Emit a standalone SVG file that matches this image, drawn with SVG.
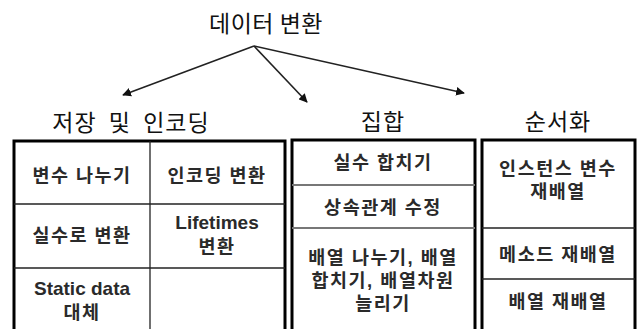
<svg xmlns="http://www.w3.org/2000/svg" width="641" height="329" viewBox="0 0 641 329">
<style>
.t{font-family:"Noto Sans CJK KR","Liberation Sans",sans-serif;fill:#111;text-anchor:middle}
.h{font-size:23px;letter-spacing:0.5px}
.s{font-size:23px;letter-spacing:1px}
.c{font-family:"Liberation Sans","Noto Sans CJK KR",sans-serif;font-size:18.5px;font-weight:bold;fill:#2a2a2a;letter-spacing:1.5px}
.e{font-size:19px;letter-spacing:0}
.box{fill:#fff;stroke:#000;stroke-width:3}
.div{stroke:#222;stroke-width:1.3}
.gdiv{stroke:#777;stroke-width:2}
.arr{stroke:#222;stroke-width:1.6;fill:none;marker-end:url(#ah)}
</style>
<defs>
<marker id="ah" viewBox="0 0 10 10" refX="9" refY="5" markerWidth="5.5" markerHeight="5.5" orient="auto">
<path d="M0,0 L10,5 L0,10 z" fill="#111"/>
</marker>
</defs>
<rect width="641" height="329" fill="#fff"/>
<g id="root"><text class="t h" x="266" y="32">데이터 변환</text></g>
<g id="connectors">
<line class="arr" x1="254" y1="46" x2="123" y2="95"/>
<line class="arr" x1="254" y1="46" x2="307" y2="102"/>
<line class="arr" x1="254" y1="46" x2="464" y2="93"/>
</g>
<g id="storage">
<text class="t s" x="131" y="131" word-spacing="6">저장 및 인코딩</text>
<rect class="box" x="14" y="141" width="271" height="200"/>
<line class="div" x1="150" y1="141" x2="150" y2="329"/>
<line class="div" x1="14" y1="204" x2="285" y2="204"/>
<line class="div" x1="14" y1="268" x2="285" y2="268"/>
<text class="t c" x="82" y="182">변수 나누기</text>
<text class="t c" x="217" y="182">인코딩 변환</text>
<text class="t c" x="82" y="242">실수로 변환</text>
<text class="t c e" x="217" y="229">Lifetimes</text>
<text class="t c" x="217" y="253">변환</text>
<text class="t c e" x="82" y="295">Static data</text>
<text class="t c" x="82" y="319">대체</text>
</g>
<g id="collection">
<text class="t s" x="383" y="130">집합</text>
<rect class="box" x="292" y="140" width="183" height="200"/>
<line class="gdiv" x1="292" y1="185" x2="475" y2="185"/>
<line class="gdiv" x1="292" y1="228" x2="475" y2="228"/>
<text class="t c" x="383" y="169">실수 합치기</text>
<text class="t c" x="383" y="214">상속관계 수정</text>
<text class="t c" x="383" y="264">배열 나누기, 배열</text>
<text class="t c" x="383" y="287">합치기, 배열차원</text>
<text class="t c" x="383" y="310">늘리기</text>
</g>
<g id="serialize">
<text class="t s" x="558" y="130">순서화</text>
<rect class="box" x="482" y="140" width="153" height="200"/>
<line class="div" x1="482" y1="228" x2="635" y2="228"/>
<line class="div" x1="482" y1="279" x2="635" y2="279"/>
<text class="t c" x="558" y="175">인스턴스 변수</text>
<text class="t c" x="558" y="198">재배열</text>
<text class="t c" x="558" y="261">메소드 재배열</text>
<text class="t c" x="558" y="308">배열 재배열</text>
</g>
</svg>
